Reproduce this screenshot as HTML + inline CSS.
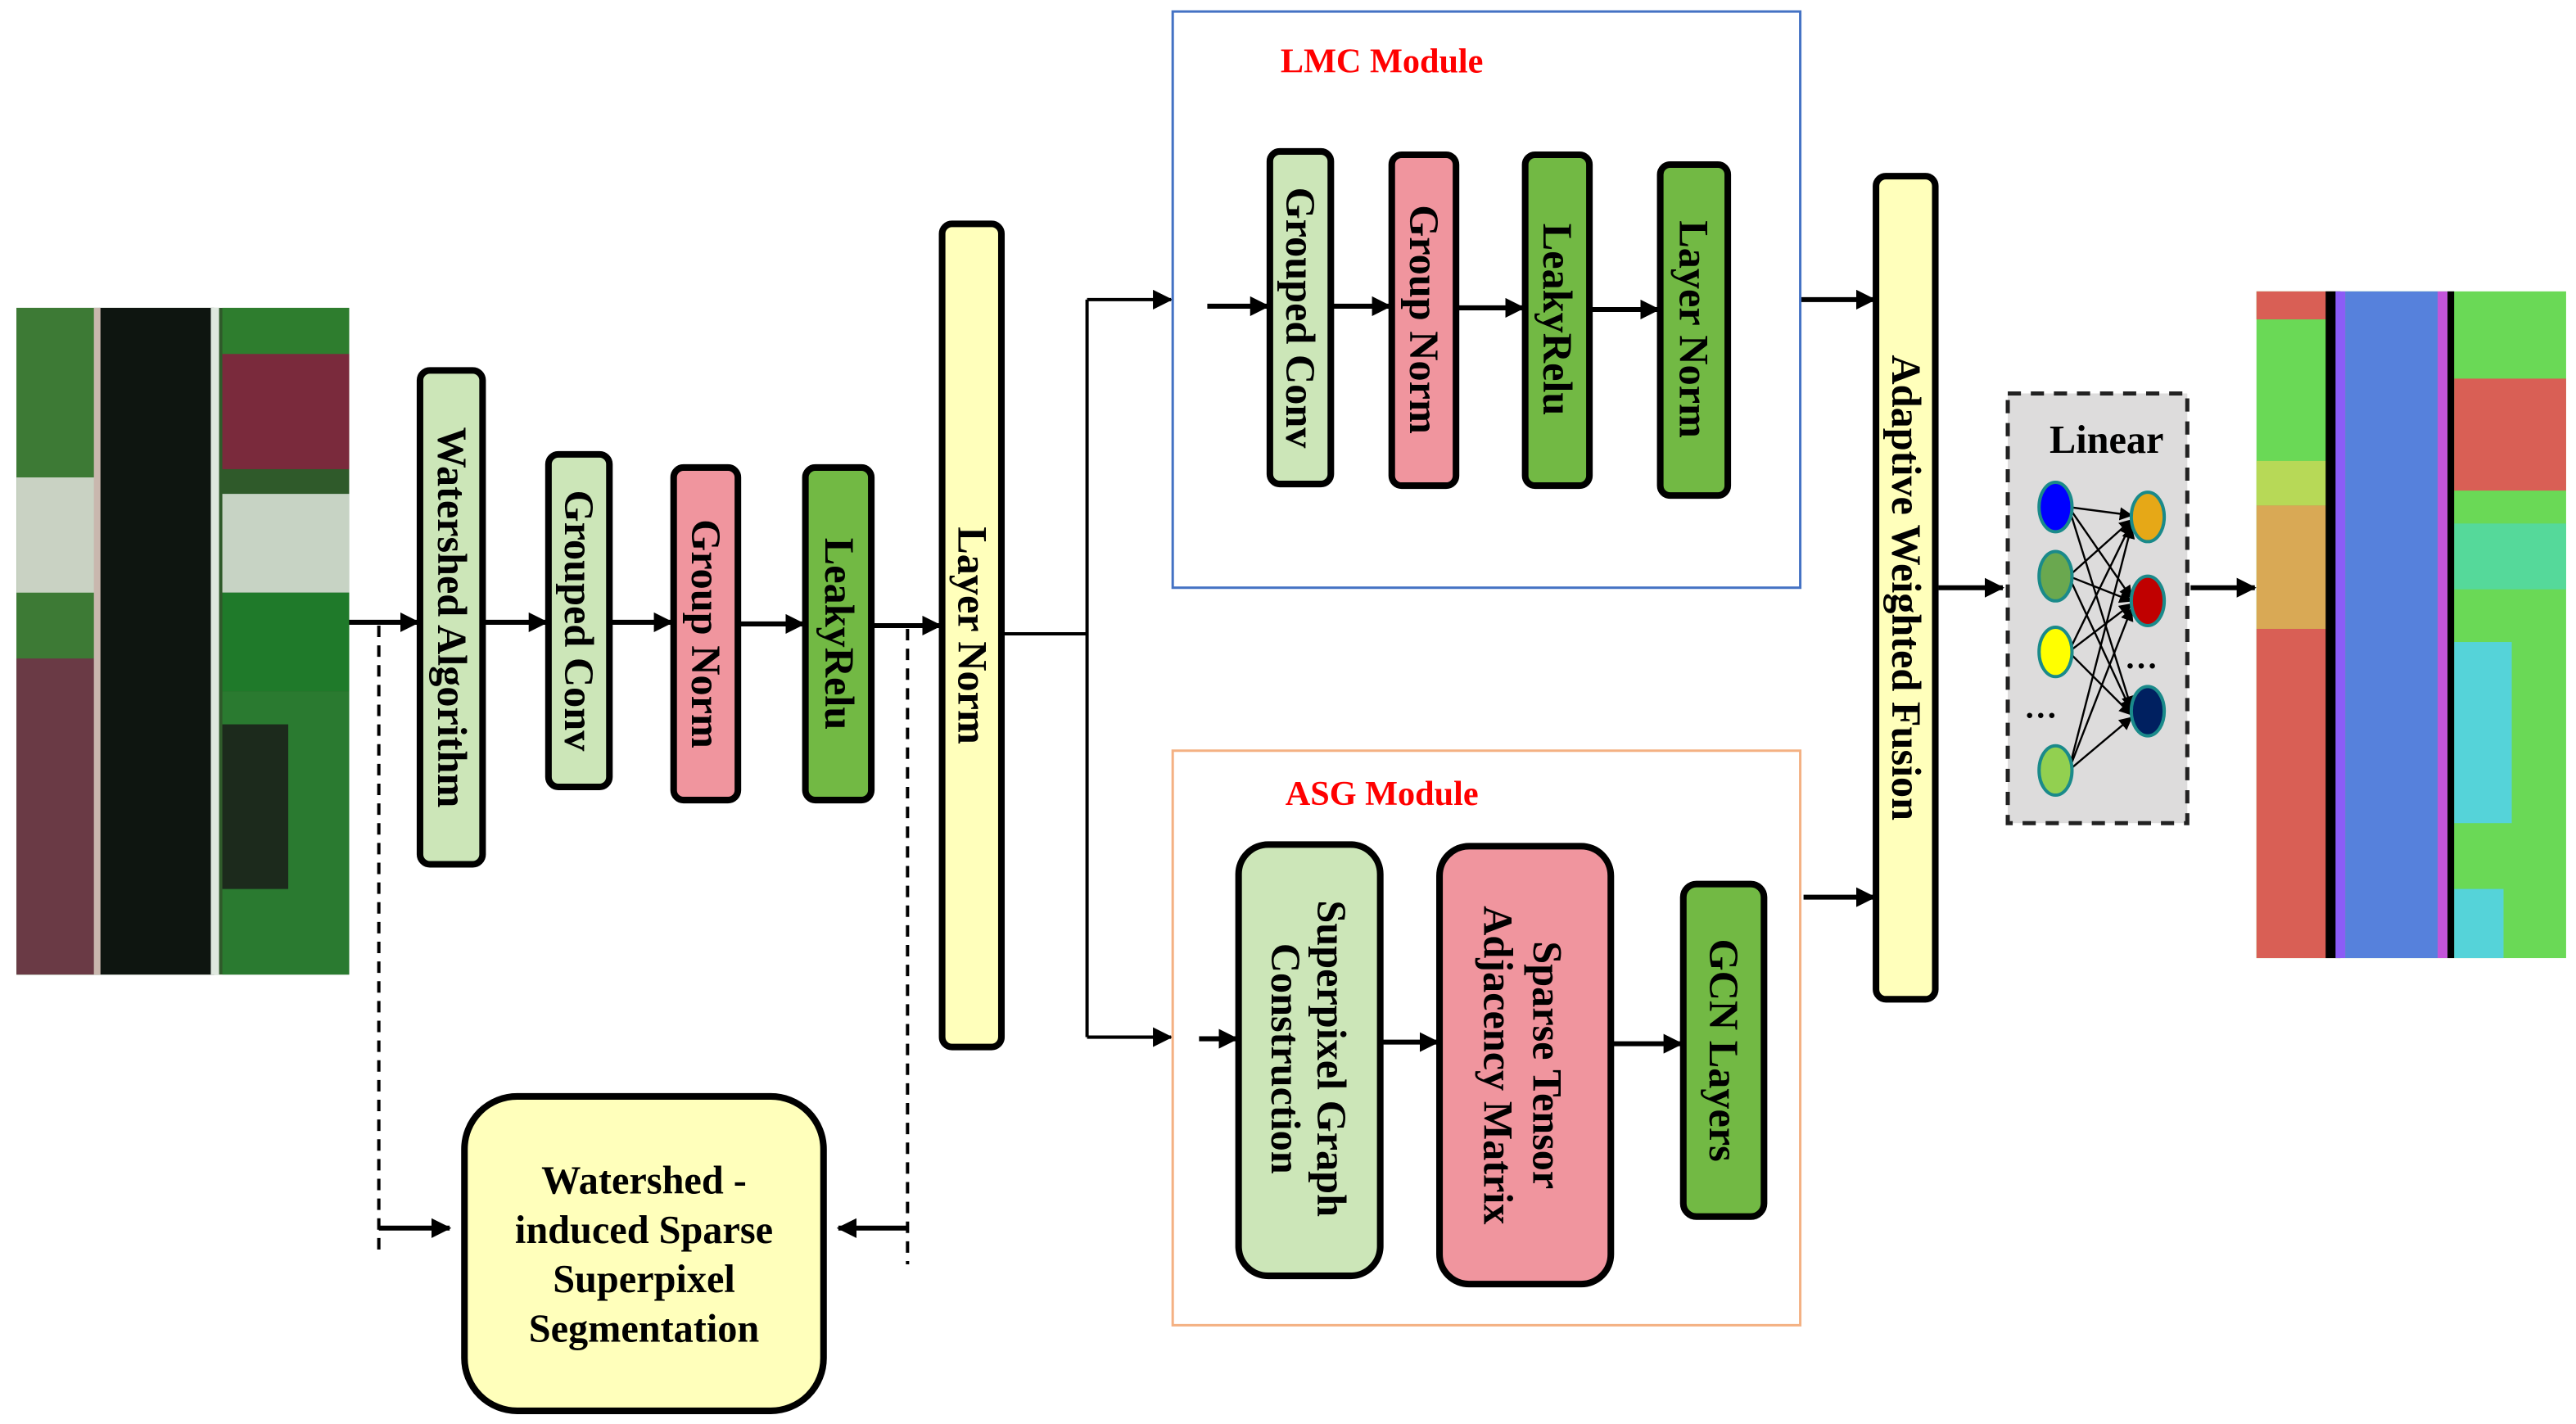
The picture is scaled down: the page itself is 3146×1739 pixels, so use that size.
<!DOCTYPE html>
<html><head><meta charset="utf-8"><style>
html,body{margin:0;padding:0;background:#fff;}
svg{display:block;}
</style></head><body>
<svg width="3146" height="1739" viewBox="0 0 1564 865" preserveAspectRatio="none" xmlns="http://www.w3.org/2000/svg" font-family="'Liberation Serif', 'DejaVu Serif', serif" font-weight="bold">
<defs>
<marker id="a" markerWidth="8" markerHeight="8" refX="7" refY="4" orient="auto" markerUnits="userSpaceOnUse"><path d="M0,0 L8,4 L0,8 z" fill="#000"/></marker>
<marker id="b" markerWidth="12" markerHeight="12" refX="11" refY="6" orient="auto" markerUnits="userSpaceOnUse"><path d="M0,0 L12,6 L0,12 z" fill="#000"/></marker>
</defs>
<g>
<rect x="10" y="187" width="202" height="405" fill="#2f5a2a"/>
<rect x="10" y="187" width="50" height="405" fill="#3d7a35"/>
<rect x="10" y="290" width="50" height="70" fill="#c9d2c3"/>
<rect x="10" y="400" width="50" height="192" fill="#6a3a45"/>
<rect x="135" y="187" width="77" height="90" fill="#2e7d2e"/>
<rect x="135" y="215" width="77" height="70" fill="#7a2a3c"/>
<rect x="135" y="300" width="77" height="60" fill="#c7d3c4"/>
<rect x="135" y="360" width="77" height="60" fill="#1f7a2a"/>
<rect x="135" y="420" width="77" height="172" fill="#2a7a30"/>
<rect x="135" y="440" width="40" height="100" fill="#1c2a1c"/>
<rect x="60" y="187" width="70" height="405" fill="#0e1510"/>
<rect x="128" y="187" width="5" height="405" fill="#dfe8df"/>
<rect x="57" y="187" width="4" height="405" fill="#c9b7ae"/>
</g>
<g stroke="#000" stroke-width="3" fill="none">
<line x1="212" y1="378" x2="254" y2="378" marker-end="url(#b)"/>
<line x1="293" y1="378" x2="332" y2="378" marker-end="url(#b)"/>
<line x1="370" y1="378" x2="408" y2="378" marker-end="url(#b)"/>
<line x1="448" y1="379" x2="488" y2="379" marker-end="url(#b)"/>
<line x1="529" y1="380" x2="571" y2="380" marker-end="url(#b)"/>
<line x1="608" y1="385" x2="660" y2="385" stroke-width="2"/>
<line x1="660" y1="182" x2="660" y2="630" stroke-width="2"/>
<line x1="660" y1="182" x2="711" y2="182" stroke-width="2" marker-end="url(#b)"/>
<line x1="660" y1="630" x2="711" y2="630" stroke-width="2" marker-end="url(#b)"/>
<line x1="733" y1="186" x2="770" y2="186" marker-end="url(#b)"/>
<line x1="808" y1="186" x2="844" y2="186" marker-end="url(#b)"/>
<line x1="884" y1="187" x2="925" y2="187" marker-end="url(#b)"/>
<line x1="965" y1="188" x2="1007" y2="188" marker-end="url(#b)"/>
<line x1="728" y1="631" x2="751" y2="631" marker-end="url(#b)"/>
<line x1="838" y1="633" x2="873" y2="633" marker-end="url(#b)"/>
<line x1="978" y1="634" x2="1021" y2="634" marker-end="url(#b)"/>
<line x1="1093" y1="182" x2="1138" y2="182" marker-end="url(#b)"/>
<line x1="1095" y1="545" x2="1138" y2="545" marker-end="url(#b)"/>
<line x1="1177" y1="357" x2="1216" y2="357" marker-end="url(#b)"/>
<line x1="1330" y1="357" x2="1369" y2="357" marker-end="url(#b)"/>
<line x1="230" y1="746" x2="273" y2="746" marker-end="url(#b)"/>
<line x1="551" y1="746" x2="509" y2="746" marker-end="url(#b)"/>
</g>
<g stroke="#000" stroke-width="2" stroke-dasharray="7,5">
<line x1="230" y1="380" x2="230" y2="762"/>
<line x1="551" y1="382" x2="551" y2="768"/>
</g>
<rect x="712" y="7" width="381" height="350" fill="none" stroke="#4472c4" stroke-width="1.5"/>
<text x="839" y="44" font-size="21" fill="#ff0000" text-anchor="middle">LMC Module</text>
<rect x="712" y="456" width="381" height="349" fill="none" stroke="#f4b183" stroke-width="1.5"/>
<text x="839" y="489" font-size="21" fill="#ff0000" text-anchor="middle">ASG Module</text>
<g stroke="#000" stroke-width="4">
<rect x="255" y="225" width="38" height="300" rx="6" fill="#cce6b8"/>
<rect x="333" y="276" width="37" height="202" rx="6" fill="#cce6b8"/>
<rect x="409" y="284" width="39" height="202" rx="6" fill="#f0959e"/>
<rect x="489" y="284" width="40" height="202" rx="6" fill="#72b944"/>
<rect x="572" y="136" width="36" height="500" rx="6" fill="#ffffbb"/>
<rect x="771" y="92" width="37" height="202" rx="6" fill="#cce6b8"/>
<rect x="845" y="94" width="39" height="201" rx="6" fill="#f0959e"/>
<rect x="926" y="94" width="39" height="201" rx="6" fill="#72b944"/>
<rect x="1008" y="100" width="41" height="201" rx="6" fill="#72b944"/>
<rect x="752" y="513" width="86" height="262" rx="18" fill="#cce6b8"/>
<rect x="874" y="514" width="104" height="266" rx="18" fill="#f0959e"/>
<rect x="1022" y="537" width="49" height="202" rx="8" fill="#72b944"/>
<rect x="1139" y="107" width="36" height="500" rx="6" fill="#ffffbb"/>
<rect x="282" y="666" width="218" height="191" rx="32" fill="#ffffbb"/>
</g>
<g font-size="25" fill="#000" text-anchor="middle">
<text transform="translate(274,375) rotate(90)" dy="8">Watershed Algorithm</text>
<text transform="translate(351,377) rotate(90)" dy="8">Grouped Conv</text>
<text transform="translate(428,385) rotate(90)" dy="8">Group Norm</text>
<text transform="translate(509,385) rotate(90)" dy="8">LeakyRelu</text>
<text transform="translate(590,386) rotate(90)" dy="8">Layer Norm</text>
<text transform="translate(789,193) rotate(90)" dy="8">Grouped Conv</text>
<text transform="translate(864,194) rotate(90)" dy="8">Group Norm</text>
<text transform="translate(945,194) rotate(90)" dy="8">LeakyRelu</text>
<text transform="translate(1028,200) rotate(90)" dy="8">Layer Norm</text>
<text transform="translate(1046,638) rotate(90)" dy="8">GCN Layers</text>
<text transform="translate(1157,357) rotate(90)" dy="8">Adaptive Weighted Fusion</text>
<text transform="translate(808,643) rotate(90)" dy="8">Superpixel Graph</text>
<text transform="translate(780,643) rotate(90)" dy="8">Construction</text>
<text transform="translate(939,647) rotate(90)" dy="8">Sparse Tensor</text>
<text transform="translate(909,647) rotate(90)" dy="8">Adjacency Matrix</text>
</g>
<g font-size="24" fill="#000" text-anchor="middle">
<text x="391" y="725">Watershed -</text>
<text x="391" y="755">induced Sparse</text>
<text x="391" y="785">Superpixel</text>
<text x="391" y="815">Segmentation</text>
</g>
<rect x="1219" y="239" width="109" height="261" fill="#dddcdc" stroke="#222" stroke-width="2.5" stroke-dasharray="8,6"/>
<text x="1279" y="275" font-size="24" text-anchor="middle">Linear</text>
<g stroke="#000" stroke-width="1.2" marker-end="url(#a)">
<line x1="1256" y1="308" x2="1294" y2="313"/><line x1="1256" y1="308" x2="1294" y2="363"/><line x1="1256" y1="308" x2="1294" y2="430"/>
<line x1="1256" y1="350" x2="1294" y2="316"/><line x1="1256" y1="350" x2="1294" y2="365"/><line x1="1256" y1="350" x2="1294" y2="432"/>
<line x1="1256" y1="396" x2="1294" y2="318"/><line x1="1256" y1="396" x2="1294" y2="367"/><line x1="1256" y1="396" x2="1294" y2="434"/>
<line x1="1256" y1="468" x2="1294" y2="320"/><line x1="1256" y1="468" x2="1294" y2="370"/><line x1="1256" y1="468" x2="1294" y2="436"/>
</g>
<g stroke="#1a8a8a" stroke-width="2">
<ellipse cx="1248" cy="308" rx="10" ry="15" fill="#0000ff"/>
<ellipse cx="1248" cy="350" rx="10" ry="15" fill="#6aa84f"/>
<ellipse cx="1248" cy="396" rx="10" ry="15" fill="#ffff00"/>
<ellipse cx="1248" cy="468" rx="10" ry="15" fill="#92d050"/>
<ellipse cx="1304" cy="314" rx="10" ry="15" fill="#e6a817"/>
<ellipse cx="1304" cy="365" rx="10" ry="15" fill="#c00000"/>
<ellipse cx="1304" cy="432" rx="10" ry="15" fill="#002060"/>
</g>
<text x="1239" y="436" font-size="20" text-anchor="middle">…</text>
<text x="1300" y="406" font-size="20" text-anchor="middle">…</text>
<g>
<rect x="1370" y="177" width="188" height="405" fill="#6ad956"/>
<rect x="1370" y="177" width="48" height="17" fill="#d95f55"/>
<rect x="1370" y="280" width="48" height="27" fill="#b7d957"/>
<rect x="1370" y="307" width="48" height="75" fill="#d9a955"/>
<rect x="1370" y="382" width="48" height="200" fill="#d95f55"/>
<rect x="1490" y="230" width="68" height="68" fill="#d95f55"/>
<rect x="1490" y="318" width="68" height="40" fill="#55d99a"/>
<rect x="1490" y="390" width="35" height="110" fill="#55d3d9"/>
<rect x="1490" y="540" width="30" height="42" fill="#55d3d9"/>
<rect x="1412" y="177" width="9" height="405" fill="#000"/>
<rect x="1418" y="177" width="6" height="405" fill="#8b5cf6"/>
<rect x="1424" y="177" width="56" height="405" fill="#5681dc"/>
<rect x="1480" y="177" width="6" height="405" fill="#c455d9"/>
<rect x="1486" y="177" width="4" height="405" fill="#000"/>
</g>
</svg>
</body></html>
